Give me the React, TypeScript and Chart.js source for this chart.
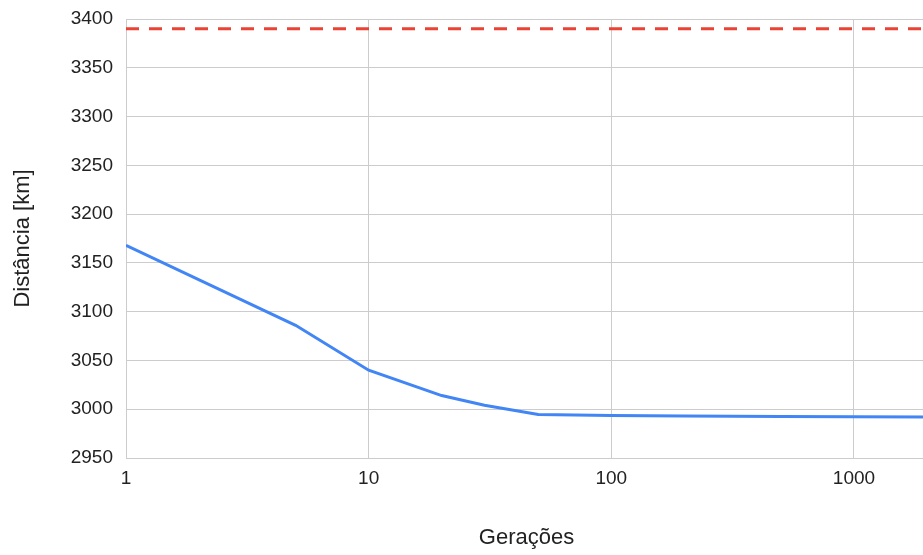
import React, { useEffect, useRef } from "react";
import { Chart, registerables } from "chart.js";

Chart.register(...registerables);

const generations = [1, 5, 10, 20, 30, 50, 100, 200, 500, 1000, 2000];
const distances = [3168, 3086, 3040, 3014, 3004, 2994.5, 2993.5, 2993, 2992.5, 2992.3, 2992];
const referenceGenerations = [1, 2000];
const referenceDistances = [3390, 3390];
const xTickValues = [1, 10, 100, 1000];
const yMin = 2950;
const yMax = 3400;
const yStep = 50;

const FONT = "'Liberation Sans', Arial, sans-serif";

export default function App() {
  const ref = useRef<HTMLCanvasElement | null>(null);

  useEffect(() => {
    if (!ref.current) return;
    const chart = new Chart(ref.current, {
      type: "line",
      data: {
        datasets: [
          {
            label: "Referência",
            data: referenceGenerations.map((g, i) => ({ x: g, y: referenceDistances[i] })),
            borderColor: "#EA4335",
            borderWidth: 3,
            borderDash: [13, 10],
            pointRadius: 0,
            tension: 0,
          },
          {
            label: "Distância",
            data: generations.map((g, i) => ({ x: g, y: distances[i] })),
            borderColor: "#4285F4",
            borderWidth: 3,
            pointRadius: 0,
            tension: 0,
          },
        ],
      },
      options: {
        animation: false,
        responsive: false,
        layout: { padding: { top: 19, left: 0, right: 0, bottom: 0 } },
        plugins: {
          legend: { display: false },
          tooltip: { enabled: false },
        },
        scales: {
          x: {
            type: "logarithmic",
            min: 1,
            max: 2000,
            afterBuildTicks: (scale: any) => {
              scale.ticks = xTickValues.map((v) => ({ value: v }));
            },
            afterFit: (scale: any) => {
              scale.height = 97;
              scale.paddingLeft = 0;
              scale.paddingRight = 0;
            },
            grid: { color: "#cccccc", lineWidth: 1, drawTicks: false },
            border: { color: "#cccccc" },
            ticks: {
              autoSkip: false,
              maxRotation: 0,
              padding: 9,
              color: "#222222",
              font: { family: FONT, size: 19 },
              callback: (v: any) => String(v),
            },
            title: {
              display: true,
              text: "Gerações",
              color: "#222222",
              font: { family: FONT, size: 22 },
              padding: { top: 0, bottom: 4 },
            },
          },
          y: {
            type: "linear",
            min: yMin,
            max: yMax,
            afterFit: (scale: any) => {
              scale.width = 126;
              scale.paddingTop = 0;
              scale.paddingBottom = 0;
            },
            grid: { color: "#cccccc", lineWidth: 1, drawTicks: false },
            border: { color: "#cccccc" },
            ticks: {
              stepSize: yStep,
              padding: 13,
              color: "#222222",
              font: { family: FONT, size: 19 },
              callback: (v: any) => String(v),
            },
            title: {
              display: true,
              text: "Distância [km]",
              color: "#222222",
              font: { family: FONT, size: 22 },
              padding: { top: 10, bottom: 0 },
            },
          },
        },
      },
    });
    return () => chart.destroy();
  }, []);

  return (
    <div
      style={{
        position: "fixed",
        left: 0,
        top: 0,
        width: 923,
        height: 555,
        overflow: "hidden",
        background: "#ffffff",
      }}
    >
      <canvas ref={ref} width={927} height={555} style={{ display: "block" }} />
    </div>
  );
}
